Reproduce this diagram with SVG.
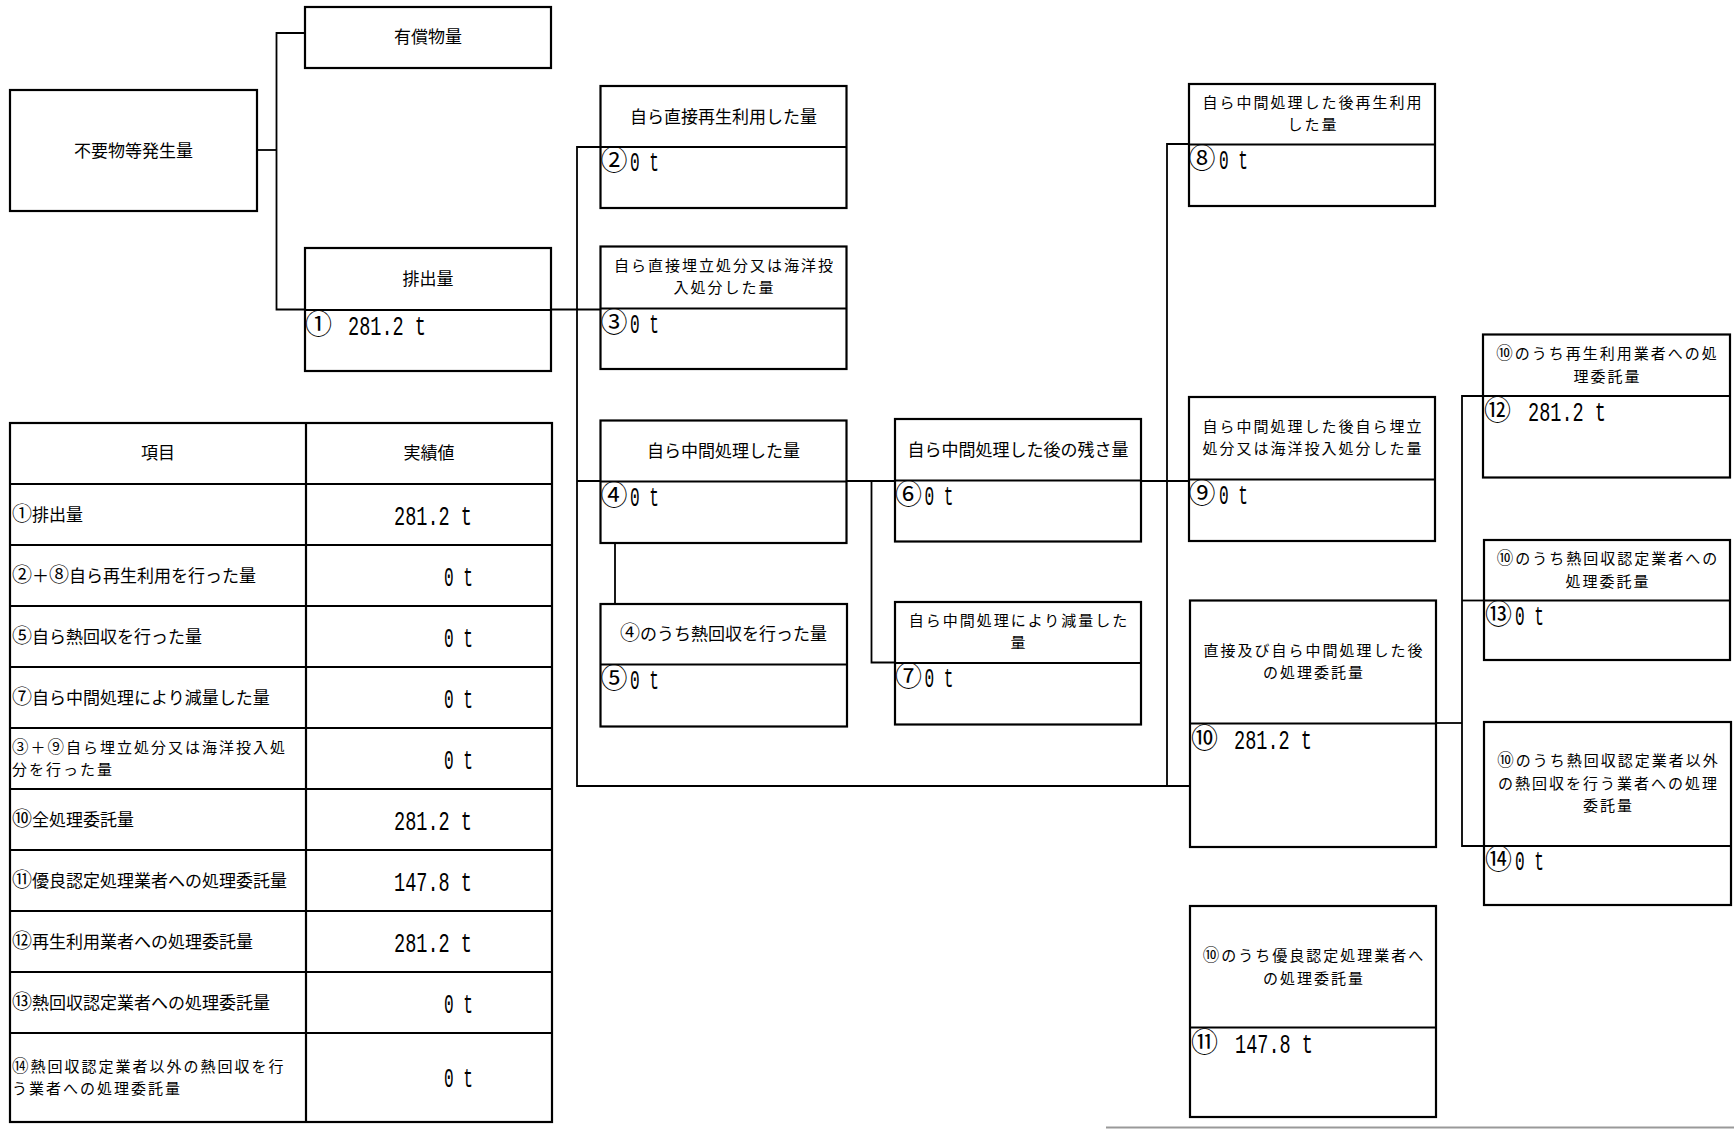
<svg xmlns="http://www.w3.org/2000/svg" width="1734" height="1129" viewBox="0 0 1734 1129">
<style>
.box{fill:#fff;stroke:#000;stroke-width:2.2}
.dv{stroke:#000;stroke-width:2.2}
.conn{stroke:#000;stroke-width:1.8;fill:none}
.lbl{font-family:"Noto Sans CJK JP",sans-serif;font-size:17px;text-anchor:middle;fill:#000}
.ml{font-family:"Noto Sans CJK JP",sans-serif;font-size:15px;letter-spacing:2px;text-anchor:middle;fill:#000}
.tl{font-family:"Noto Sans CJK JP",sans-serif;font-size:17px;fill:#000}
.tm{font-family:"Noto Sans CJK JP",sans-serif;font-size:15px;letter-spacing:2px;fill:#000}
.c{font-size:20px}
.c2{font-size:16.5px}
.circ{font-family:"Noto Sans CJK JP",sans-serif;font-size:27px;fill:#000}
.num{font-family:"Liberation Mono",monospace;font-size:28px;fill:#000}
.tb{fill:none;stroke:#000;stroke-width:2.2}
</style>
<rect width="1734" height="1129" fill="#fff"/>
<g id="connectors">
<polyline class="conn" points="257,150 276.5,150"/>
<polyline class="conn" points="305,33 276.5,33 276.5,309.5 600.5,309.5"/>
<polyline class="conn" points="600.5,147 577,147 577,786 1190,786"/>
<polyline class="conn" points="577,481 1189,481"/>
<polyline class="conn" points="615,543 615,604"/>
<polyline class="conn" points="871.5,481 871.5,662.5 895,662.5"/>
<polyline class="conn" points="1189,144 1167,144 1167,786"/>
<polyline class="conn" points="1435.6,723 1462,723"/>
<polyline class="conn" points="1483,396 1462,396 1462,846 1484,846"/>
<polyline class="conn" points="1462,600.5 1484,600.5"/>
</g>
<g id="n-yushou">
<rect class="box" x="305" y="7" width="246" height="61"/>
<text class="lbl" x="428" y="43">有償物量</text>
</g>
<g id="n-fuyou">
<rect class="box" x="10" y="90" width="247" height="121"/>
<text class="lbl" x="133.5" y="156.5">不要物等発生量</text>
</g>
<g id="n1">
<rect class="box" x="305" y="248" width="246" height="123"/>
<line class="dv" x1="305" y1="310" x2="551" y2="310"/>
<text class="lbl" x="428" y="285">排出量</text>
<text class="circ" x="305" y="334">①</text>
<text class="num" x="348" y="335" textLength="78" lengthAdjust="spacingAndGlyphs">281.2 t</text>
</g>
<g id="n2">
<rect class="box" x="600.5" y="86" width="246" height="122"/>
<line class="dv" x1="600.5" y1="147" x2="846.5" y2="147"/>
<text class="lbl" x="723.5" y="122.5">自ら直接再生利用した量</text>
<text class="circ" x="600.5" y="170">②</text>
<text class="num" x="630" y="171" textLength="29" lengthAdjust="spacingAndGlyphs">0 t</text>
</g>
<g id="n3">
<rect class="box" x="600.5" y="246.5" width="246" height="122.5"/>
<line class="dv" x1="600.5" y1="308.5" x2="846.5" y2="308.5"/>
<text class="ml"><tspan x="724.5" y="271.2">自ら直接埋立処分又は海洋投</tspan><tspan x="724.5" y="293.4">入処分した量</tspan></text>
<text class="circ" x="600.5" y="331.5">③</text>
<text class="num" x="630" y="332.5" textLength="29" lengthAdjust="spacingAndGlyphs">0 t</text>
</g>
<g id="n4">
<rect class="box" x="600.5" y="420.5" width="246" height="122.5"/>
<line class="dv" x1="600.5" y1="481.5" x2="846.5" y2="481.5"/>
<text class="lbl" x="723.5" y="457">自ら中間処理した量</text>
<text class="circ" x="600.5" y="504.5">④</text>
<text class="num" x="630" y="505.5" textLength="29" lengthAdjust="spacingAndGlyphs">0 t</text>
</g>
<g id="n5">
<rect class="box" x="600.5" y="604" width="246.5" height="122.5"/>
<line class="dv" x1="600.5" y1="664.5" x2="847" y2="664.5"/>
<text class="lbl" x="723.5" y="640"><tspan class="c">④</tspan>のうち熱回収を行った量</text>
<text class="circ" x="600.5" y="687.5">⑤</text>
<text class="num" x="630" y="688.5" textLength="29" lengthAdjust="spacingAndGlyphs">0 t</text>
</g>
<g id="n6">
<rect class="box" x="895" y="419" width="246" height="122.5"/>
<line class="dv" x1="895" y1="480.5" x2="1141" y2="480.5"/>
<text class="lbl" x="1018" y="456">自ら中間処理した後の残さ量</text>
<text class="circ" x="895" y="503.5">⑥</text>
<text class="num" x="924.5" y="504.5" textLength="29" lengthAdjust="spacingAndGlyphs">0 t</text>
</g>
<g id="n7">
<rect class="box" x="895" y="602" width="246" height="122.5"/>
<line class="dv" x1="895" y1="663" x2="1141" y2="663"/>
<text class="ml"><tspan x="1019" y="626.2">自ら中間処理により減量した</tspan><tspan x="1019" y="648.4">量</tspan></text>
<text class="circ" x="895" y="686">⑦</text>
<text class="num" x="924.5" y="687" textLength="29" lengthAdjust="spacingAndGlyphs">0 t</text>
</g>
<g id="n8">
<rect class="box" x="1189" y="84" width="246" height="122"/>
<line class="dv" x1="1189" y1="144.5" x2="1435" y2="144.5"/>
<text class="ml"><tspan x="1313" y="108.2">自ら中間処理した後再生利用</tspan><tspan x="1313" y="130.4">した量</tspan></text>
<text class="circ" x="1188.5" y="167.5">⑧</text>
<text class="num" x="1219" y="168.5" textLength="29" lengthAdjust="spacingAndGlyphs">0 t</text>
</g>
<g id="n9">
<rect class="box" x="1189" y="397" width="246" height="144"/>
<line class="dv" x1="1189" y1="479.5" x2="1435" y2="479.5"/>
<text class="ml"><tspan x="1313" y="432.2">自ら中間処理した後自ら埋立</tspan><tspan x="1313" y="454.4">処分又は海洋投入処分した量</tspan></text>
<text class="circ" x="1188.5" y="502.5">⑨</text>
<text class="num" x="1219" y="503.5" textLength="29" lengthAdjust="spacingAndGlyphs">0 t</text>
</g>
<g id="n10">
<rect class="box" x="1190" y="600.5" width="246" height="246.5"/>
<line class="dv" x1="1190" y1="723.5" x2="1436" y2="723.5"/>
<text class="ml"><tspan x="1314" y="656.2">直接及び自ら中間処理した後</tspan><tspan x="1314" y="678.4">の処理委託量</tspan></text>
<text class="circ" x="1191" y="748">⑩</text>
<text class="num" x="1234" y="749" textLength="78" lengthAdjust="spacingAndGlyphs">281.2 t</text>
</g>
<g id="n11">
<rect class="box" x="1190" y="906" width="246" height="211"/>
<line class="dv" x1="1190" y1="1027.5" x2="1436" y2="1027.5"/>
<text class="ml"><tspan x="1314" y="961.2"><tspan class="c2">⑩</tspan>のうち優良認定処理業者へ</tspan><tspan x="1314" y="983.6">の処理委託量</tspan></text>
<text class="circ" x="1191" y="1052">⑪</text>
<text class="num" x="1235" y="1053" textLength="78" lengthAdjust="spacingAndGlyphs">147.8 t</text>
</g>
<g id="n12">
<rect class="box" x="1483" y="334.5" width="247" height="143"/>
<line class="dv" x1="1483" y1="396" x2="1730" y2="396"/>
<text class="ml"><tspan x="1607.5" y="359.2"><tspan class="c2">⑩</tspan>のうち再生利用業者への処</tspan><tspan x="1607.5" y="381.6">理委託量</tspan></text>
<text class="circ" x="1484" y="419.5">⑫</text>
<text class="num" x="1528" y="420.5" textLength="78" lengthAdjust="spacingAndGlyphs">281.2 t</text>
</g>
<g id="n13">
<rect class="box" x="1484" y="540" width="246" height="120"/>
<line class="dv" x1="1484" y1="600.5" x2="1730" y2="600.5"/>
<text class="ml"><tspan x="1608" y="564.2"><tspan class="c2">⑩</tspan>のうち熱回収認定業者への</tspan><tspan x="1608" y="586.6">処理委託量</tspan></text>
<text class="circ" x="1485" y="623.5">⑬</text>
<text class="num" x="1515" y="624.5" textLength="29" lengthAdjust="spacingAndGlyphs">0 t</text>
</g>
<g id="n14">
<rect class="box" x="1484" y="722" width="247" height="183"/>
<line class="dv" x1="1484" y1="846" x2="1731" y2="846"/>
<text class="ml"><tspan x="1608.5" y="766.4"><tspan class="c2">⑩</tspan>のうち熱回収認定業者以外</tspan><tspan x="1608.5" y="788.8">の熱回収を行う業者への処理</tspan><tspan x="1608.5" y="811">委託量</tspan></text>
<text class="circ" x="1485" y="869">⑭</text>
<text class="num" x="1515" y="870" textLength="29" lengthAdjust="spacingAndGlyphs">0 t</text>
</g>
<g id="table">
<rect class="tb" x="10" y="423" width="542" height="699"/>
<line class="tb" x1="306" y1="423" x2="306" y2="1122"/>
<path class="tb" d="M10 484H552M10 545H552M10 606H552M10 667H552M10 728H552M10 789H552M10 850H552M10 911H552M10 972H552M10 1033H552"/>
<text class="lbl" x="158" y="459">項目</text>
<text class="lbl" x="429" y="459">実績値</text>
<text class="tl" x="12" y="520.5"><tspan class="c">①</tspan>排出量</text>
<text class="tl" x="12" y="581.5"><tspan class="c">②</tspan>＋<tspan class="c">⑧</tspan>自ら再生利用を行った量</text>
<text class="tl" x="12" y="642.5"><tspan class="c">⑤</tspan>自ら熱回収を行った量</text>
<text class="tl" x="12" y="703.5"><tspan class="c">⑦</tspan>自ら中間処理により減量した量</text>
<text class="tm"><tspan x="12" y="752.7"><tspan class="c2">③</tspan>＋<tspan class="c2">⑨</tspan>自ら埋立処分又は海洋投入処</tspan><tspan x="12" y="775.1">分を行った量</tspan></text>
<text class="tl" x="12" y="825.5"><tspan class="c">⑩</tspan>全処理委託量</text>
<text class="tl" x="12" y="886.5"><tspan class="c">⑪</tspan>優良認定処理業者への処理委託量</text>
<text class="tl" x="12" y="947.5"><tspan class="c">⑫</tspan>再生利用業者への処理委託量</text>
<text class="tl" x="12" y="1008.5"><tspan class="c">⑬</tspan>熱回収認定業者への処理委託量</text>
<text class="tm"><tspan x="12" y="1071.8"><tspan class="c2">⑭</tspan>熱回収認定業者以外の熱回収を行</tspan><tspan x="12" y="1094.2">う業者への処理委託量</tspan></text>
<text class="num" x="394" y="524.5" textLength="78" lengthAdjust="spacingAndGlyphs">281.2 t</text>
<text class="num" x="444" y="585.5" textLength="29" lengthAdjust="spacingAndGlyphs">0 t</text>
<text class="num" x="444" y="646.5" textLength="29" lengthAdjust="spacingAndGlyphs">0 t</text>
<text class="num" x="444" y="707.5" textLength="29" lengthAdjust="spacingAndGlyphs">0 t</text>
<text class="num" x="444" y="768.5" textLength="29" lengthAdjust="spacingAndGlyphs">0 t</text>
<text class="num" x="394" y="829.5" textLength="78" lengthAdjust="spacingAndGlyphs">281.2 t</text>
<text class="num" x="394" y="890.5" textLength="78" lengthAdjust="spacingAndGlyphs">147.8 t</text>
<text class="num" x="394" y="951.5" textLength="78" lengthAdjust="spacingAndGlyphs">281.2 t</text>
<text class="num" x="444" y="1012.5" textLength="29" lengthAdjust="spacingAndGlyphs">0 t</text>
<text class="num" x="444" y="1087" textLength="29" lengthAdjust="spacingAndGlyphs">0 t</text>
</g>
<line x1="1106" y1="1127.5" x2="1734" y2="1127.5" stroke="#999" stroke-width="2"/>
</svg>
